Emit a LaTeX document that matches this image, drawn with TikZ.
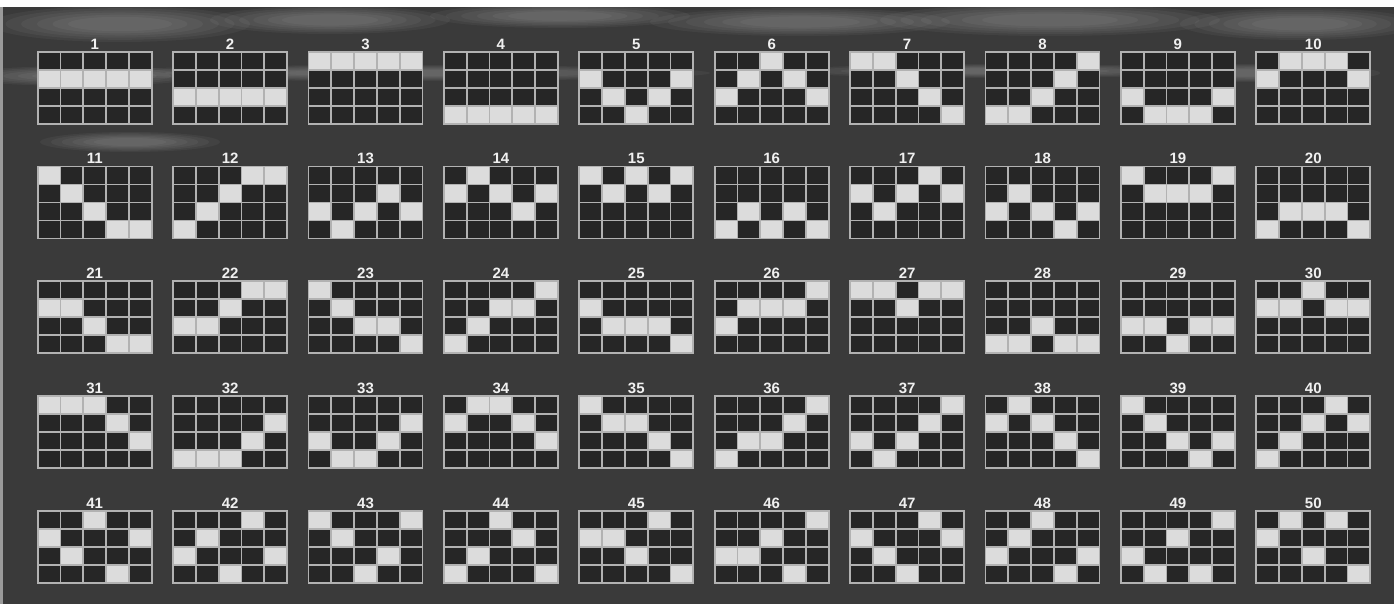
\documentclass[tikz,border=0pt]{standalone}
\usepackage{fontspec}
\setmainfont{Liberation Sans}
\usepackage{tikz}
\definecolor{bgdark}{HTML}{3A3A3A}
\definecolor{celldark}{HTML}{262626}
\definecolor{celllit}{HTML}{DCDCDC}
\definecolor{gridgray}{HTML}{B2B2B2}
\definecolor{numwhite}{HTML}{F0F0F0}
\definecolor{edgegray}{HTML}{9A9A9A}

\begin{document}
\begin{tikzpicture}[
    x=1pt, y=-1pt,
    cellbg/.style={fill=celldark},
    litcell/.style={fill=celllit},
    gridline/.style={draw=gridgray, line width=1.8pt, line cap=rect},
    numlabel/.style={font=\fontsize{15}{15}\selectfont\bfseries, text=numwhite, inner sep=0pt, anchor=base},
    cloud/.style={fill=white, fill opacity=0.045},
]
    \useasboundingbox (0,0) rectangle (1394,604);

    % Background
    \fill[white] (0,0) rectangle (1394,604);
    \fill[bgdark] (0,7) rectangle (1394,604);
    \fill[edgegray] (0,7) rectangle (3,604);

    % Clouds
    \begin{scope}
        \clip (3,7) rectangle (1394,604);
        \foreach \cx/\cy/\rx/\ry in {120/24/130/18, 330/20/120/14, 560/16/130/12, 800/22/150/14,
            1050/20/170/16, 1300/24/120/16, 80/76/120/10, 400/73/310/8, 1000/71/210/7,
            1250/73/130/9, 130/142/90/10}
            \foreach \s in {1,0.88,...,0.3}
                \fill[cloud] (\cx,\cy) ellipse [x radius=\s*\rx, y radius=\s*\ry];
    \end{scope}

    % Paylines: number / lit row in each of the five columns
    \foreach \n/\a/\b/\c/\d/\e in {
        1/1/1/1/1/1, 2/2/2/2/2/2, 3/0/0/0/0/0, 4/3/3/3/3/3, 5/1/2/3/2/1,
        6/2/1/0/1/2, 7/0/0/1/2/3, 8/3/3/2/1/0, 9/2/3/3/3/2, 10/1/0/0/0/1,
        11/0/1/2/3/3, 12/3/2/1/0/0, 13/2/3/2/1/2, 14/1/0/1/2/1, 15/0/1/0/1/0,
        16/3/2/3/2/3, 17/1/2/1/0/1, 18/2/1/2/3/2, 19/0/1/1/1/0, 20/3/2/2/2/3,
        21/1/1/2/3/3, 22/2/2/1/0/0, 23/0/1/2/2/3, 24/3/2/1/1/0, 25/1/2/2/2/3,
        26/2/1/1/1/0, 27/0/0/1/0/0, 28/3/3/2/3/3, 29/2/2/3/2/2, 30/1/1/0/1/1,
        31/0/0/0/1/2, 32/3/3/3/2/1, 33/2/3/3/2/1, 34/1/0/0/1/2, 35/0/1/1/2/3,
        36/3/2/2/1/0, 37/2/3/2/1/0, 38/1/0/1/2/3, 39/0/1/2/3/2, 40/3/2/1/0/1,
        41/1/2/0/3/1, 42/2/1/3/0/2, 43/0/1/3/2/0, 44/3/2/0/1/3, 45/1/1/2/0/3,
        46/2/2/1/3/0, 47/1/2/3/0/1, 48/2/1/0/3/2, 49/2/3/1/3/0, 50/1/0/2/0/3} {
        \pgfmathsetmacro\gx{37.7+mod(\n-1,10)*135.4}
        \pgfmathsetmacro\gy{51.7+int((\n-1)/10)*114.75}
        \fill[cellbg] (\gx,\gy) rectangle ++(114,72);
        \foreach \r [count=\k from 0] in {\a,\b,\c,\d,\e}
            \fill[litcell] (\gx+\k*22.8,\gy+\r*18) rectangle ++(22.8,18);
        \foreach \i in {0,...,5}
            \draw[gridline] (\gx+\i*22.8,\gy) -- ++(0,72);
        \foreach \j in {0,...,4}
            \draw[gridline] (\gx,\gy+\j*18) -- ++(114,0);
        \node[numlabel] (num\n) at (\gx+57,\gy-2.5) {\n};
    }

\end{tikzpicture}
\end{document}
